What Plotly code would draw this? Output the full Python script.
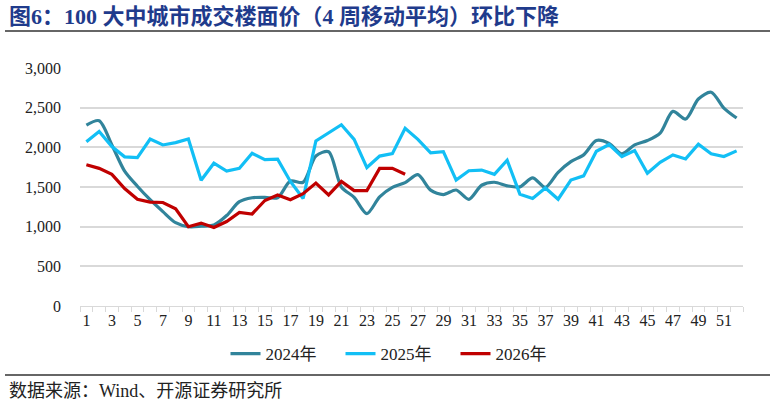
import plotly.graph_objects as go

weeks = list(range(1, 53))
y2024 = [2280, 2335, 2030, 1700, 1510, 1340, 1190, 1050, 1000, 1005,
         1020, 1140, 1315, 1365, 1370, 1365, 1575, 1560, 1890, 1945,
         1500, 1370, 1165, 1375, 1495, 1555, 1655, 1460, 1405, 1462,
         1345, 1522, 1560, 1515, 1502, 1615, 1495, 1685, 1820, 1905,
         2086, 2050, 1918, 2031, 2086, 2179, 2453, 2357, 2609, 2694,
         2495, 2369]
y2025 = [2070, 2200, 2010, 1880, 1870, 2105, 2030, 2060, 2105, 1585,
         1800, 1700, 1735, 1925, 1845, 1850, 1570, 1355, 2080, 2180,
         2285, 2100, 1745, 1890, 1920, 2240, 2100, 1930, 1945, 1587,
         1705, 1713, 1660, 1838, 1410, 1355, 1488, 1346, 1588, 1640,
         1950, 2036, 1884, 1960, 1673, 1812, 1905, 1854, 2040, 1918,
         1884, 1955]
y2026 = [1780, 1735, 1660, 1480, 1345, 1310, 1305, 1225, 1000, 1045,
         990, 1065, 1180, 1160, 1330, 1400, 1340, 1415, 1550, 1400,
         1570, 1455, 1455, 1735, 1735, 1660]
names = ["2024年", "2025年", "2026年"]
xtick_vals = list(range(1, 53, 2))
ytick_vals = [0, 500, 1000, 1500, 2000, 2500, 3000]
ytick_text = ["0", "500", "1,000", "1,500", "2,000", "2,500", "3,000"]

title = "图6：100 大中城市成交楼面价（4 周移动平均）环比下降"
source = "数据来源：Wind、开源证券研究所"

serif = "Liberation Serif, Noto Sans CJK SC"

fig = go.Figure()
fig.add_trace(go.Scatter(x=weeks, y=y2024, name=names[0], mode="lines",
                         line=dict(color="#31849B", width=3.2, shape="spline", smoothing=0.8)))
fig.add_trace(go.Scatter(x=weeks, y=y2025, name=names[1], mode="lines",
                         line=dict(color="#12BFF5", width=3.2)))
fig.add_trace(go.Scatter(x=weeks[:len(y2026)], y=y2026, name=names[2], mode="lines",
                         line=dict(color="#C00000", width=3.2)))

L, R, T, B = 80, 31, 68, 99
W, H = 774, 405
pw, ph = W - L - R, H - T - B

def px(x):
    return (x - L) / pw

def py(y):
    return (H - B - y) / ph

fig.update_layout(
    width=W, height=H,
    margin=dict(l=L, r=R, t=T, b=B),
    paper_bgcolor="white", plot_bgcolor="white",
    font=dict(family=serif, size=16, color="#222222"),
    showlegend=True,
    legend=dict(orientation="h", x=px(398), xanchor="center", y=py(354), yanchor="middle",
                font=dict(family=serif, size=17, color="#222222"),
                entrywidth=70, entrywidthmode="pixels", tracegroupgap=0),
    xaxis=dict(range=[0.5, 52.5], tickmode="array", tickvals=xtick_vals,
               ticktext=[str(v) for v in xtick_vals], ticks="",
               showline=True, linecolor="#D9D9D9", linewidth=1,
               showgrid=False, zeroline=False,
               tickfont=dict(family=serif, size=16, color="#222222"),
               minor=dict(tick0=0.5, dtick=1, ticks="outside", ticklen=5,
                          tickcolor="#D9D9D9", tickwidth=1, showgrid=False)),
    yaxis=dict(range=[0, 3000], tickmode="array", tickvals=ytick_vals, ticktext=ytick_text,
               showgrid=True, gridcolor="#D9D9D9", gridwidth=1.5,
               zeroline=False, showline=False, ticks="", ticklabelstandoff=18,
               tickfont=dict(family=serif, size=16, color="#222222")),
    shapes=[
        dict(type="line", xref="paper", yref="paper", x0=px(5), x1=px(770),
             y0=py(31), y1=py(31), line=dict(color="#333333", width=1.5)),
        dict(type="line", xref="paper", yref="paper", x0=px(5), x1=px(770),
             y0=py(375), y1=py(375), line=dict(color="#333333", width=1.5)),
    ],
    annotations=[
        dict(text="<b>" + title + "</b>", xref="paper", yref="paper", x=px(7), y=py(16),
             xanchor="left", yanchor="middle", showarrow=False,
             font=dict(family=serif, size=22, color="#1F3B8C")),
        dict(text=source, xref="paper", yref="paper", x=px(7), y=py(391),
             xanchor="left", yanchor="middle", showarrow=False,
             font=dict(family=serif, size=18, color="#222222")),
    ],
)

fig.write_html("out.html")
